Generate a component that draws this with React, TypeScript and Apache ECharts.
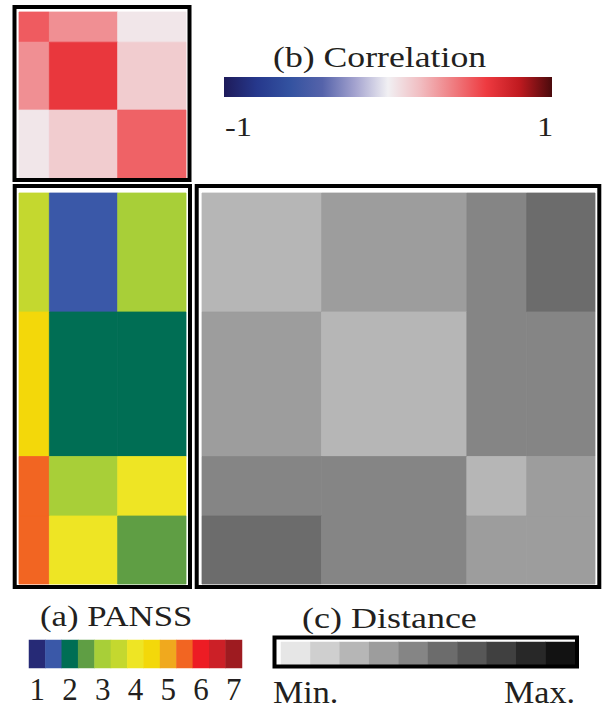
import React, { useEffect, useRef } from "react";
import * as echarts from "echarts";

// cluster sizes (items: PANSS item groups, subjects: subject groups)
const itemClusterSizes = [4, 9, 9];
const subjectClusterSizes = [14, 17, 7, 8];

// (b) correlation between item clusters
const correlationValues = [
  [0.5, 0.34, 0.04],
  [0.34, 0.62, 0.14],
  [0.04, 0.14, 0.48],
];

// (a) mean PANSS score per subject cluster x item cluster
const panssScores = [
  [3.5, 1.5, 3],
  [4.5, 2, 2],
  [5.5, 3, 4],
  [5.5, 4, 2.5],
];

// (c) distance level between subject clusters (1 = min, 10 = max)
const distanceLevels = [
  [3, 4, 5, 6],
  [4, 3, 5, 5],
  [5, 5, 3, 4],
  [6, 5, 4, 4],
];

const panssScale = [1, 1.5, 2, 2.5, 3, 3.5, 4, 4.5, 5, 5.5, 6, 6.5, 7];
const panssColors = [
  "#262A76", "#3A58A8", "#006E54", "#5F9E44", "#A8CF38", "#C4D82F", "#EEE524",
  "#F3D80A", "#F0A91E", "#F26522", "#ED1C24", "#CC2027", "#9E1B20",
];
const distanceScale = [1, 2, 3, 4, 5, 6, 7, 8, 9, 10];
const distanceColors = [
  "#E6E6E6", "#CFCFCF", "#B6B6B6", "#9D9D9D", "#858585",
  "#6C6C6C", "#575757", "#404040", "#282828", "#121212",
];
const correlationRange = [-1, 1];
const correlationColors = [
  "#1E1B5A", "#26388C", "#3352A0", "#5563AA", "#A4A3CF", "#F1F0F3",
  "#F1BCC0", "#EF7C80", "#EE3A40", "#C01A20", "#4A0A0C",
];

const SERIF = "Liberation Serif";
const INK = "#231F20";

function edges(sizes: number[]) {
  const e = [0];
  sizes.forEach((s) => e.push(e[e.length - 1] + s));
  return e;
}
function blocks(rowSizes: number[], colSizes: number[], values: number[][]) {
  const re = edges(rowSizes);
  const ce = edges(colSizes);
  const out: number[][] = [];
  values.forEach((row, r) =>
    row.forEach((v, c) => out.push([ce[c], ce[c + 1], re[r], re[r + 1], v]))
  );
  return out;
}
const sum = (a: number[]) => a.reduce((s, v) => s + v, 0);

const renderBlock = (params: any, api: any) => {
  const p0 = api.coord([api.value(0), api.value(2)]);
  const p1 = api.coord([api.value(1), api.value(3)]);
  const color = api.visual("color");
  return {
    type: "rect",
    shape: {
      x: Math.min(p0[0], p1[0]),
      y: Math.min(p0[1], p1[1]),
      width: Math.abs(p1[0] - p0[0]),
      height: Math.abs(p1[1] - p0[1]),
    },
    style: { fill: color, stroke: color, lineWidth: 0.8 },
  };
};

function text(str: string, x: number, y: number, size: number, scaleX: number, align = "left") {
  return {
    type: "text",
    x,
    y,
    scaleX,
    z: 10,
    style: {
      text: str,
      fontSize: size,
      fontFamily: SERIF,
      fill: INK,
      textAlign: align,
      align,
      textVerticalAlign: "middle",
      verticalAlign: "middle",
    },
  };
}
function frame(x: number, y: number, w: number, h: number) {
  return {
    type: "rect",
    z: 10,
    shape: { x, y, width: w, height: h },
    style: { fill: "none", stroke: "#000", lineWidth: 4 },
  };
}

export default function App() {
  const ref = useRef<HTMLDivElement>(null);
  useEffect(() => {
    if (!ref.current) return;
    const chart = echarts.init(ref.current, null, { renderer: "svg" });
    const nItems = sum(itemClusterSizes);
    const nSubj = sum(subjectClusterSizes);
    const valAxis = (max: number, inverse = false) => ({
      type: "value",
      min: 0,
      max,
      inverse,
      show: false,
    });
    const catY = { type: "category", data: [""], show: false };
    const option: any = {
      animation: false,
      backgroundColor: "#fff",
      grid: [
        { left: 19, top: 12, width: 167, height: 166 },
        { left: 19, top: 193, width: 167, height: 391 },
        { left: 202, top: 193, width: 393, height: 391 },
        { left: 29, top: 640, width: 213, height: 28 },
        { left: 281, top: 642, width: 294, height: 23 },
      ],
      xAxis: [
        { gridIndex: 0, ...valAxis(nItems) },
        { gridIndex: 1, ...valAxis(nItems) },
        { gridIndex: 2, ...valAxis(nSubj) },
        {
          gridIndex: 3,
          type: "category",
          data: panssScale.map(String),
          axisLine: { show: false },
          axisTick: { show: false },
          axisLabel: {
            fontSize: 31,
            fontFamily: SERIF,
            color: INK,
            interval: 0,
            margin: 6,
            formatter: (v: string) => (Number.isInteger(Number(v)) ? v : ""),
          },
        },
        { gridIndex: 4, type: "category", data: distanceScale.map(String), show: false },
      ],
      yAxis: [
        { gridIndex: 0, ...valAxis(nItems, true) },
        { gridIndex: 1, ...valAxis(nSubj, true) },
        { gridIndex: 2, ...valAxis(nSubj, true) },
        { gridIndex: 3, ...catY },
        { gridIndex: 4, ...catY },
      ],
      visualMap: [
        {
          type: "continuous",
          min: correlationRange[0],
          max: correlationRange[1],
          seriesIndex: 0,
          dimension: 4,
          inRange: { color: correlationColors },
          show: false,
        },
        {
          type: "piecewise",
          seriesIndex: 1,
          dimension: 4,
          pieces: panssScale.map((v, i) => ({ value: v, color: panssColors[i] })),
          show: false,
        },
        {
          type: "piecewise",
          seriesIndex: 2,
          dimension: 4,
          pieces: distanceScale.map((v, i) => ({ value: v, color: distanceColors[i] })),
          show: false,
        },
        {
          type: "piecewise",
          seriesIndex: 3,
          dimension: 2,
          pieces: panssScale.map((v, i) => ({ value: v, color: panssColors[i] })),
          show: false,
        },
        {
          type: "piecewise",
          seriesIndex: 4,
          dimension: 2,
          pieces: distanceScale.map((v, i) => ({ value: v, color: distanceColors[i] })),
          show: false,
        },
      ],
      series: [
        {
          type: "custom",
          xAxisIndex: 0,
          yAxisIndex: 0,
          renderItem: renderBlock,
          encode: { x: [0, 1], y: [2, 3] },
          data: blocks(itemClusterSizes, itemClusterSizes, correlationValues),
        },
        {
          type: "custom",
          xAxisIndex: 1,
          yAxisIndex: 1,
          renderItem: renderBlock,
          encode: { x: [0, 1], y: [2, 3] },
          data: blocks(subjectClusterSizes, itemClusterSizes, panssScores),
        },
        {
          type: "custom",
          xAxisIndex: 2,
          yAxisIndex: 2,
          renderItem: renderBlock,
          encode: { x: [0, 1], y: [2, 3] },
          data: blocks(subjectClusterSizes, subjectClusterSizes, distanceLevels),
        },
        {
          type: "heatmap",
          xAxisIndex: 3,
          yAxisIndex: 3,
          data: panssScale.map((v, i) => [i, 0, v]),
        },
        {
          type: "heatmap",
          xAxisIndex: 4,
          yAxisIndex: 4,
          data: distanceScale.map((v, i) => [i, 0, v]),
        },
      ],
      graphic: [
        frame(14.5, 7, 175, 173),
        frame(14.7, 186, 175.3, 401),
        frame(196.7, 186, 402.6, 401),
        frame(274.5, 637.5, 302.5, 29),
        {
          type: "rect",
          shape: { x: 224, y: 77, width: 328, height: 20 },
          style: {
            fill: new echarts.graphic.LinearGradient(
              0, 0, 1, 0,
              correlationColors.map((c, i) => ({
                offset: i / (correlationColors.length - 1),
                color: c,
              }))
            ),
          },
        },
        text("(b) Correlation", 273, 57, 30, 1.19),
        text(String(correlationRange[0]), 225, 126, 27, 1.2),
        text(String(correlationRange[1]), 545, 126, 27, 1.2, "center"),
        text("(a) PANSS", 40, 616, 29, 1.2),
        text("(c) Distance", 302, 618, 30, 1.2),
        text("Min.", 273, 693, 31, 1.1),
        text("Max.", 575, 693, 31, 1.1, "right"),
      ],
    };
    chart.setOption(option);
    return () => chart.dispose();
  }, []);
  return (
    <div
      ref={ref}
      style={{ position: "absolute", left: 0, top: 0, width: 602, height: 713, background: "#fff" }}
    />
  );
}
